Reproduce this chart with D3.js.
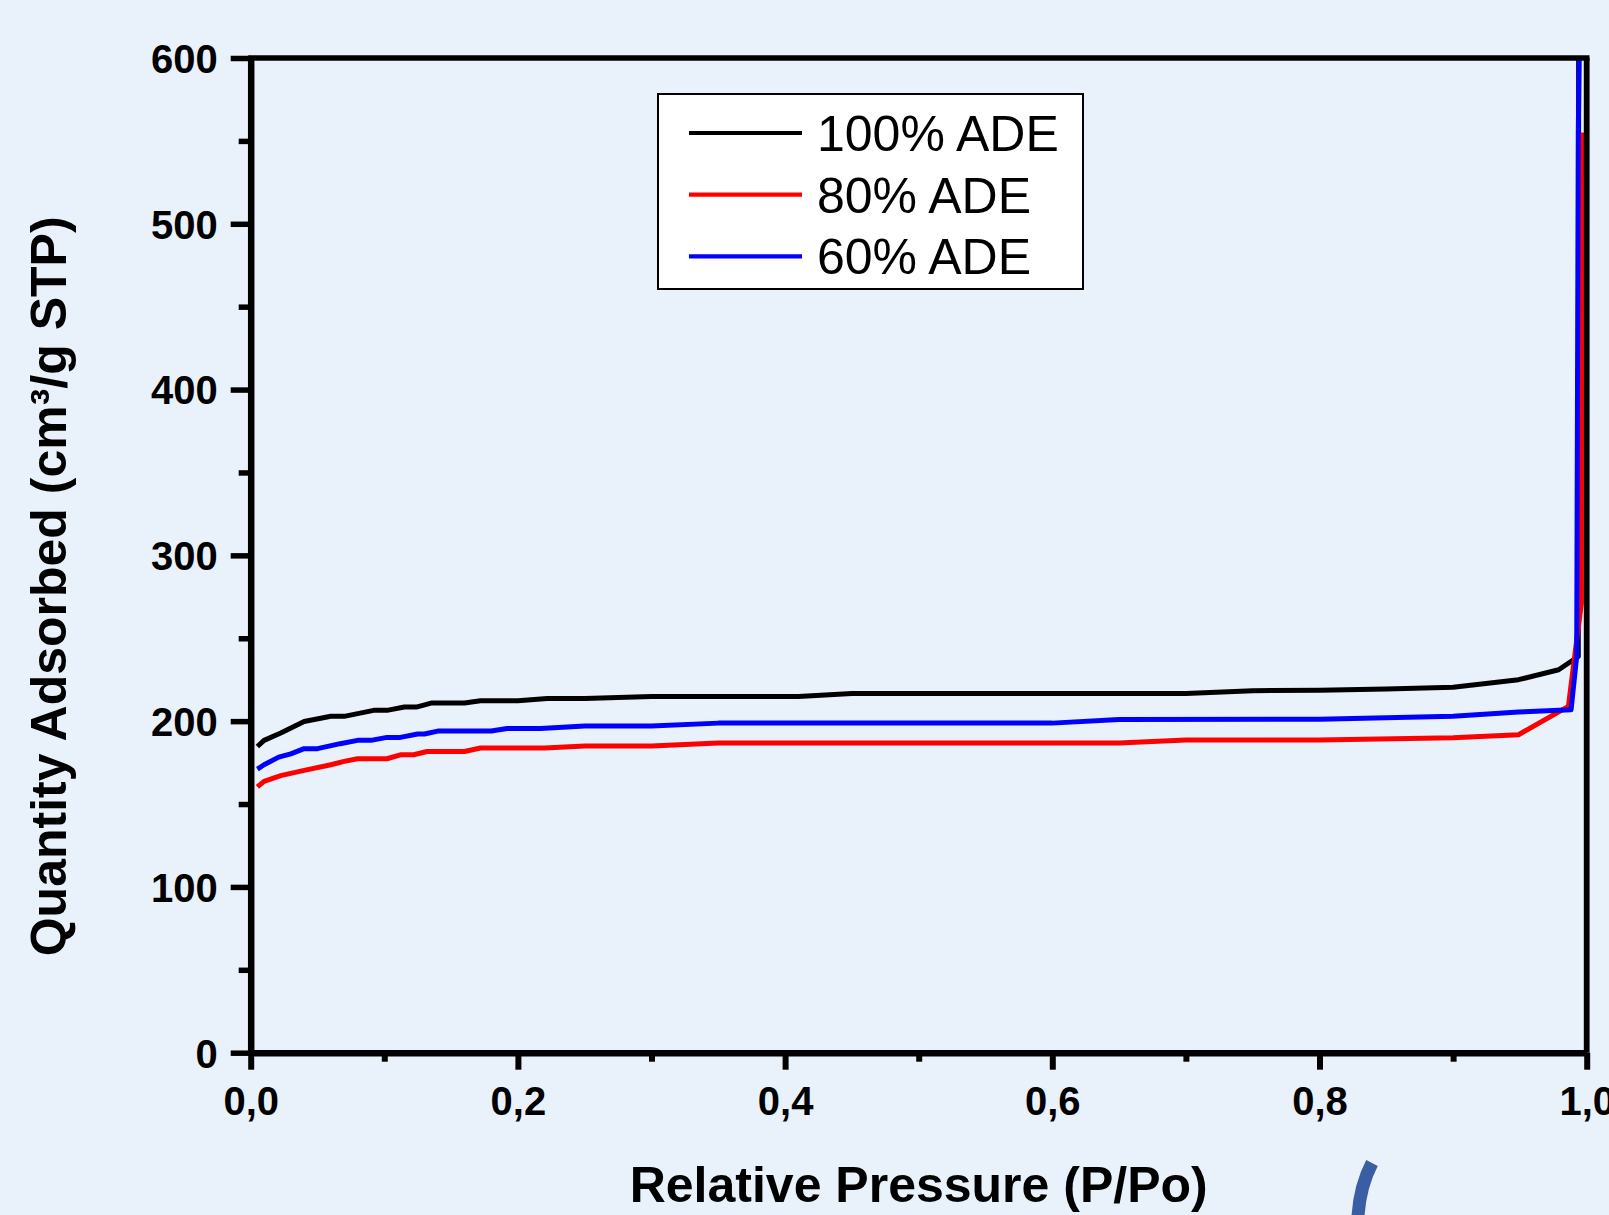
<!DOCTYPE html>
<html>
<head>
<meta charset="utf-8">
<script src="https://cdnjs.cloudflare.com/ajax/libs/d3/7.8.5/d3.min.js"></script>
<style>
    html, body { margin: 0; padding: 0; background: #e9f2fa; }
    #isotherm-chart { width: 1609px; height: 1215px; position: relative; }
    svg text { font-family: 'Liberation Sans', Arial, Helvetica, sans-serif; fill: #000; }
</style>
</head>
<body>
<div id="isotherm-chart"></div>
<script>
// relative pressure (P/Po) vs quantity adsorbed (cm3/g STP)
const ade100 = [
    { p: 0.005, q: 184.7 }, { p: 0.010, q: 188.4 }, { p: 0.0225, q: 192.8 }, { p: 0.040, q: 199.8 },
    { p: 0.060, q: 202.9 }, { p: 0.070, q: 202.9 }, { p: 0.092, q: 206.5 }, { p: 0.102, q: 206.5 },
    { p: 0.115, q: 208.5 }, { p: 0.124, q: 208.5 }, { p: 0.135, q: 210.9 }, { p: 0.160, q: 210.9 },
    { p: 0.172, q: 212.3 }, { p: 0.200, q: 212.3 }, { p: 0.222, q: 213.7 }, { p: 0.250, q: 213.7 },
    { p: 0.300, q: 214.9 }, { p: 0.410, q: 214.9 }, { p: 0.450, q: 216.6 }, { p: 0.700, q: 216.6 },
    { p: 0.750, q: 218.4 }, { p: 0.800, q: 218.6 }, { p: 0.850, q: 219.4 }, { p: 0.900, q: 220.5 },
    { p: 0.949, q: 225.0 }, { p: 0.979, q: 231.0 }, { p: 0.9937, q: 239.0 }, { p: 0.9940, q: 640 },
];

const ade80 = [
    { p: 0.005, q: 160.3 }, { p: 0.010, q: 163.7 }, { p: 0.0225, q: 167.1 }, { p: 0.040, q: 170.3 },
    { p: 0.060, q: 173.7 }, { p: 0.070, q: 175.7 }, { p: 0.080, q: 177.3 }, { p: 0.102, q: 177.3 },
    { p: 0.112, q: 179.7 }, { p: 0.122, q: 179.7 }, { p: 0.132, q: 181.7 }, { p: 0.160, q: 181.7 },
    { p: 0.172, q: 183.8 }, { p: 0.220, q: 183.8 }, { p: 0.250, q: 185.0 }, { p: 0.300, q: 185.0 },
    { p: 0.350, q: 186.8 }, { p: 0.650, q: 186.8 }, { p: 0.700, q: 188.6 }, { p: 0.800, q: 188.6 },
    { p: 0.900, q: 190.0 }, { p: 0.949, q: 191.8 }, { p: 0.9863, q: 208.9 }, { p: 0.9960, q: 271 },
    { p: 0.9961, q: 555 },
];

const ade60 = [
    { p: 0.005, q: 171.1 }, { p: 0.010, q: 173.7 }, { p: 0.021, q: 178.3 }, { p: 0.030, q: 180.3 },
    { p: 0.040, q: 183.4 }, { p: 0.050, q: 183.4 }, { p: 0.067, q: 186.4 }, { p: 0.080, q: 188.4 },
    { p: 0.090, q: 188.4 }, { p: 0.102, q: 190.2 }, { p: 0.112, q: 190.2 }, { p: 0.125, q: 192.2 },
    { p: 0.130, q: 192.2 }, { p: 0.140, q: 194.0 }, { p: 0.180, q: 194.0 }, { p: 0.192, q: 195.6 },
    { p: 0.217, q: 195.6 }, { p: 0.250, q: 197.0 }, { p: 0.300, q: 197.0 }, { p: 0.350, q: 198.8 },
    { p: 0.600, q: 198.8 }, { p: 0.650, q: 201.0 }, { p: 0.800, q: 201.2 }, { p: 0.900, q: 203.0 },
    { p: 0.949, q: 205.5 }, { p: 0.9883, q: 206.9 }, { p: 0.9925, q: 239 }, { p: 0.9937, q: 555 },
    { p: 0.9950, q: 640 },
];

const seriesNames = ['100% ADE', '80% ADE', '60% ADE'];
const seriesColors = ['#000000', '#ff0000', '#0000ff'];

const xTicks = [0, 0.2, 0.4, 0.6, 0.8, 1.0];
const xMinorTicks = [0.1, 0.3, 0.5, 0.7, 0.9];
const yTicks = [0, 100, 200, 300, 400, 500, 600];
const yMinorTicks = [50, 150, 250, 350, 450, 550];

const xLabel = 'Relative Pressure (P/Po)';
const yLabel = 'Quantity Adsorbed (cm³/g STP)';

// ******************************* ******************************* //
// DRAWS THE ISOTHERM LINE CHART //
// ******************************* ******************************* //

class IsothermChart {
    constructor(series) {
        const vis = this;
        vis.series = series;
        this.initVis();
    }

    initVis() {
        const vis = this;

        vis.chartDiv = document.getElementById('isotherm-chart');
        vis.chartDiv.innerHTML = '';
        vis.width = 1609;
        vis.height = 1215;

        vis.MARGIN = { top: 58, right: 22.3, bottom: 162.3, left: 250.7 };
        vis.gWIDTH = vis.width - (vis.MARGIN.left + vis.MARGIN.right);
        vis.gHEIGHT = vis.height - (vis.MARGIN.top + vis.MARGIN.bottom);

        // MAIN SVG
        vis.svg = d3.select(vis.chartDiv).append('svg')
            .attr('width', vis.width)
            .attr('height', vis.height);

        vis.g = vis.svg.append('g')
            .attr('transform', `translate(${vis.MARGIN.left},${vis.MARGIN.top})`);

        vis.svg.append('defs').append('clipPath').attr('id', 'plot-clip')
            .append('rect')
            .attr('x', 0).attr('y', 0)
            .attr('width', vis.gWIDTH).attr('height', vis.gHEIGHT);

        this.redraw();
    }

    redraw() {
        const vis = this;

        // SCALES
        const x = d3.scaleLinear().domain([0, 1]).range([0, vis.gWIDTH]);
        const y = d3.scaleLinear().domain([0, 600]).range([vis.gHEIGHT, 0]);

        const comma = d => d3.format('.1f')(d).replace('.', ',');

        // LINES
        const line = d3.line().x(d => x(d.p)).y(d => y(d.q));

        vis.g.append('g')
            .attr('clip-path', 'url(#plot-clip)')
            .selectAll('.iso-line')
            .data(vis.series)
            .enter()
            .append('path')
            .attr('class', 'iso-line')
            .attr('d', d => line(d.values))
            .attr('fill', 'none')
            .attr('stroke', d => d.color)
            .attr('stroke-width', 5)
            .attr('stroke-linejoin', 'round');

        // X AXIS (major + minor)
        vis.g.append('g')
            .attr('transform', `translate(0,${vis.gHEIGHT})`)
            .call(d3.axisBottom(x).tickValues(xMinorTicks).tickSize(9).tickFormat(''))
            .call(g => g.select('.domain').remove())
            .call(g => g.selectAll('.tick line').attr('stroke', '#000').attr('stroke-width', 6));

        vis.g.append('g')
            .attr('transform', `translate(0,${vis.gHEIGHT})`)
            .call(d3.axisBottom(x).tickValues(xTicks).tickSize(17).tickSizeOuter(0)
                .tickPadding(16.6).tickFormat(comma))
            .call(g => g.select('.domain').attr('stroke', '#000').attr('stroke-width', 6.5))
            .call(g => g.selectAll('.tick line').attr('stroke', '#000').attr('stroke-width', 6))
            .call(g => g.selectAll('.tick text')
                .attr('font-size', 40).attr('font-weight', 'bold').attr('fill', '#000')
                .attr('font-family', "'Liberation Sans', Arial, sans-serif"));

        // Y AXIS (major + minor)
        vis.g.append('g')
            .call(d3.axisLeft(y).tickValues(yMinorTicks).tickSize(12).tickFormat(''))
            .call(g => g.select('.domain').remove())
            .call(g => g.selectAll('.tick line').attr('stroke', '#000').attr('stroke-width', 5.5));

        vis.g.append('g')
            .call(d3.axisLeft(y).tickValues(yTicks).tickSize(20).tickSizeOuter(0).tickPadding(13))
            .call(g => g.select('.domain').attr('stroke', '#000').attr('stroke-width', 6.5))
            .call(g => g.selectAll('.tick line').attr('stroke', '#000').attr('stroke-width', 5.5))
            .call(g => g.selectAll('.tick text')
                .attr('font-size', 40).attr('font-weight', 'bold').attr('fill', '#000')
                .attr('dy', '0.36em')
                .attr('font-family', "'Liberation Sans', Arial, sans-serif"));

        // TOP + RIGHT FRAME
        vis.g.append('line')
            .attr('x1', x(0) - 2.5).attr('x2', x(1) + 2.8)
            .attr('y1', y(600)).attr('y2', y(600))
            .attr('stroke', '#000').attr('stroke-width', 5.5);
        vis.g.append('line')
            .attr('x1', x(1)).attr('x2', x(1))
            .attr('y1', y(600)).attr('y2', y(0))
            .attr('stroke', '#000').attr('stroke-width', 5.8);

        // AXIS TITLES
        vis.svg.append('text')
            .attr('x', vis.MARGIN.left + vis.gWIDTH / 2)
            .attr('y', 1202)
            .attr('text-anchor', 'middle')
            .attr('font-size', 50)
            .attr('font-weight', 'bold')
            .text(xLabel);

        vis.svg.append('text')
            .attr('transform', `translate(66,${vis.MARGIN.top + vis.gHEIGHT / 2 + 31}) rotate(-90)`)
            .attr('text-anchor', 'middle')
            .attr('font-size', 50)
            .attr('font-weight', 'bold')
            .text(yLabel);

        // LEGEND
        const legend = vis.svg.append('g').attr('class', 'legend');
        legend.append('rect')
            .attr('x', 658).attr('y', 94)
            .attr('width', 425).attr('height', 195)
            .attr('fill', '#ffffff')
            .attr('stroke', '#000').attr('stroke-width', 2);

        const rows = legend.selectAll('.legend-row')
            .data(vis.series)
            .enter()
            .append('g')
            .attr('class', 'legend-row')
            .attr('transform', (d, i) => `translate(0,${151 + i * 61.7})`);

        rows.append('line')
            .attr('x1', 689).attr('x2', 802)
            .attr('y1', -18).attr('y2', -18)
            .attr('stroke', d => d.color)
            .attr('stroke-width', 4.2);

        rows.append('text')
            .attr('x', 817)
            .attr('y', 0)
            .attr('font-size', 50)
            .text(d => d.name);

        // slide decoration (curved stroke at the bottom right)
        vis.svg.append('path')
            .attr('d', 'M1372,1163 Q1360,1186 1358,1216')
            .attr('fill', 'none')
            .attr('stroke', '#3a5ea3')
            .attr('stroke-width', 13);
    }
}

const isoSeries = [ade100, ade80, ade60].map((values, i) => ({
    name: seriesNames[i],
    color: seriesColors[i],
    values: values
}));

new IsothermChart(isoSeries);
</script>
</body>
</html>
